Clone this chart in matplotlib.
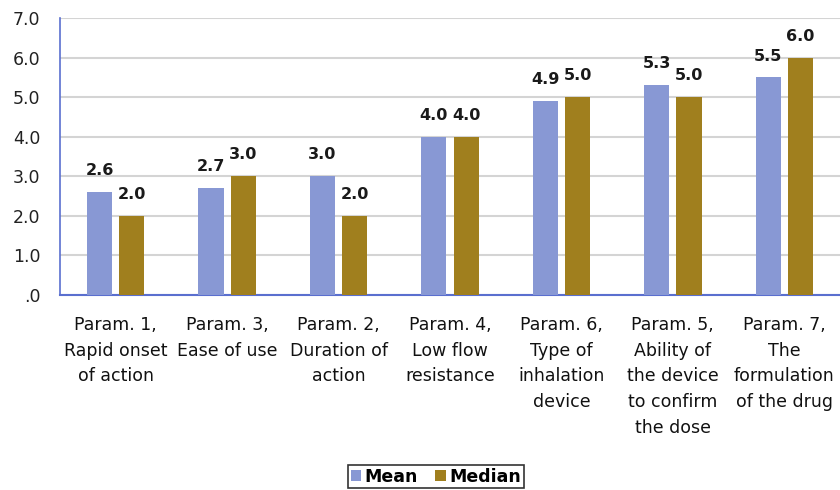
import matplotlib
matplotlib.use("Agg")
import matplotlib.pyplot as plt
from matplotlib import font_manager
import numpy as np

categories = [
    "Param. 1,\nRapid onset\nof action",
    "Param. 3,\nEase of use",
    "Param. 2,\nDuration of\naction",
    "Param. 4,\nLow flow\nresistance",
    "Param. 6,\nType of\ninhalation\ndevice",
    "Param. 5,\nAbility of\nthe device\nto confirm\nthe dose",
    "Param. 7,\nThe\nformulation\nof the drug",
]
mean_vals = [2.6, 2.7, 3.0, 4.0, 4.9, 5.3, 5.5]
median_vals = [2.0, 3.0, 2.0, 4.0, 5.0, 5.0, 6.0]
series_names = ["Mean", "Median"]
y_ticks = [0, 1, 2, 3, 4, 5, 6, 7]

names = {f.name for f in font_manager.fontManager.ttflist}
narrow = "Liberation Sans Narrow" if "Liberation Sans Narrow" in names else "DejaVu Sans Condensed"

mean_color = "#8898D4"
median_color = "#A07F1E"
axis_color = "#5A6FCF"

fig = plt.figure(figsize=(8.4, 4.9), dpi=100)
ax = fig.add_axes([0.0714, 0.398, 0.9286, 0.565])

x = np.arange(len(categories))
w = 0.225
off = 0.145
b1 = ax.bar(x - off, mean_vals, w, color=mean_color, label=series_names[0], zorder=3)
b2 = ax.bar(x + off, median_vals, w, color=median_color, label=series_names[1], zorder=3)

for bars, vals in ((b1, mean_vals), (b2, median_vals)):
    for rect, v in zip(bars, vals):
        ax.annotate(f"{v:.1f}", (rect.get_x() + rect.get_width() / 2, v),
                    xytext=(0, 10), textcoords="offset points",
                    ha="center", va="bottom", fontsize=11.5, fontweight="bold",
                    color="#1a1a1a", family="DejaVu Sans")

ax.set_xlim(-0.5, len(categories) - 0.5)
ax.set_ylim(0, 7)
ax.set_yticks(y_ticks)
ax.set_yticklabels([".0" if t == 0 else f"{t:.1f}" for t in y_ticks],
                   fontsize=12.5, color="#222222", family="DejaVu Sans")
ax.set_xticks(x)
ax.set_xticklabels(categories, fontsize=12.5, family=narrow, color="#111111",
                   linespacing=1.55, va="top")
ax.tick_params(axis="both", length=0)
ax.tick_params(axis="x", pad=15)
ax.tick_params(axis="y", pad=14)

ax.grid(axis="y", color="#D4D4D4", linewidth=1.5, zorder=0)
ax.set_axisbelow(True)
for s in ["top", "right"]:
    ax.spines[s].set_visible(False)
ax.spines["left"].set_color(axis_color)
ax.spines["bottom"].set_color(axis_color)
ax.spines["left"].set_linewidth(1.2)
ax.spines["bottom"].set_linewidth(1.5)

leg = fig.legend(handles=[b1, b2], labels=series_names, loc="center",
                 bbox_to_anchor=(0.519, 0.027), ncol=2, frameon=True,
                 fancybox=False, edgecolor="black",
                 prop={"family": narrow, "size": 12.5, "weight": "bold"},
                 handlelength=0.6, handleheight=0.6, handletextpad=0.2,
                 columnspacing=1.0, borderpad=0.15, borderaxespad=0)
leg.get_frame().set_linewidth(1.2)

fig.savefig("out.png", dpi=100)
